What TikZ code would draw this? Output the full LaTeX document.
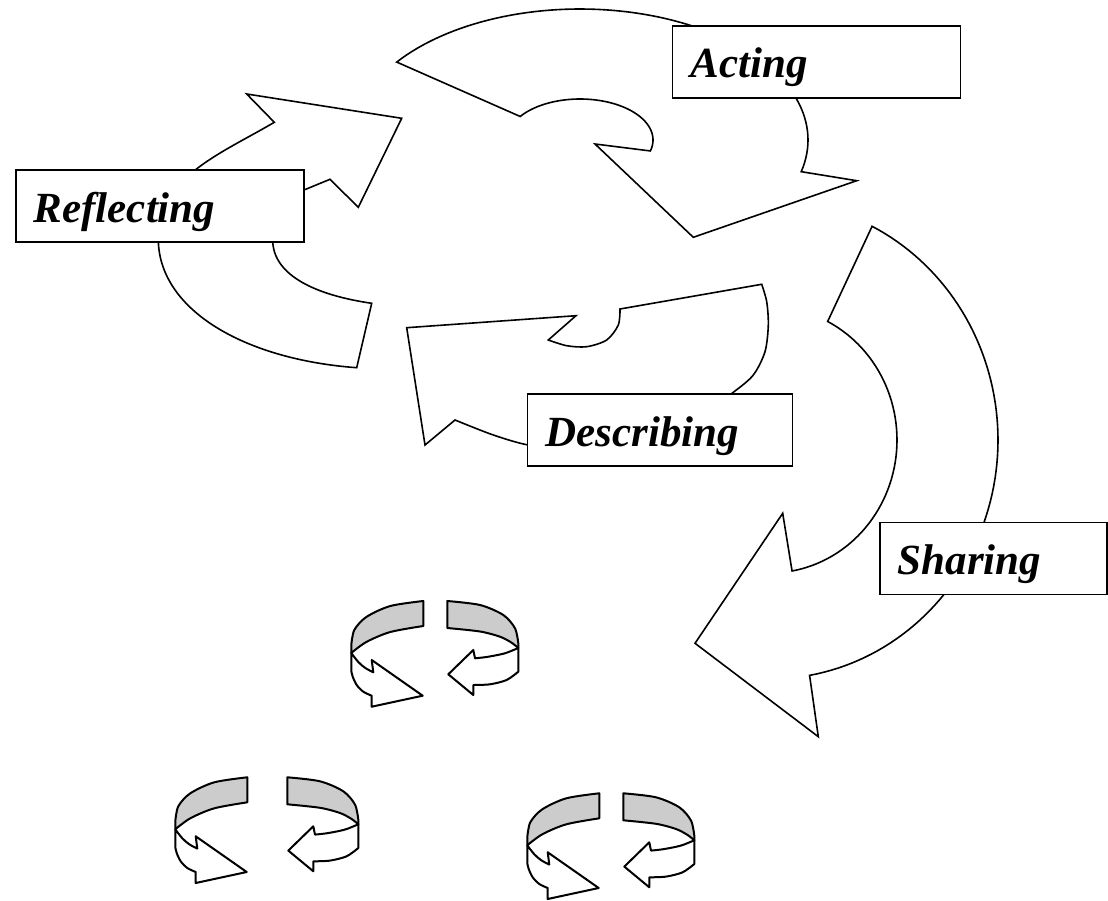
\documentclass[tikz,border=0pt]{standalone}
\usepackage{fontspec}
\setmainfont{Liberation Serif}
\begin{document}
\begin{tikzpicture}[x=1pt,y=-1pt,
  big/.style={draw=black, fill=white, line width=1.6pt, line join=miter},
  lbl/.style={draw=black, fill=white, line width=1.6pt, minimum height=72pt,
    inner xsep=18pt, inner ysep=0pt, text height=32pt, text depth=0pt,
    align=left, font=\fontsize{43}{50}\selectfont\bfseries\itshape},
  ring/.style={draw=black, line width=2pt, line join=round},
  band/.style={ring, fill=black!20},
  front/.style={ring, fill=white},
  rotl/.pic={
    \path[band] (0,0) -- plot[smooth] coordinates {(0,0) (-33,5) (-57,16) (-69,29) (-72,44)}
      -- (-72,52) -- plot[smooth] coordinates {(-72,52) (-57,41) (-33,31) (0,25)} -- cycle;
    \path[front] (-72,52) -- plot[smooth] coordinates {(-72,52) (-65,61) (-58,67) (-50,71.3)}
      -- (-51.6,59) -- (-0.6,94.7) -- (-51.6,105.7) -- (-51.6,94.7)
      -- plot[smooth] coordinates {(-51.6,94.7) (-60,90.7) (-66.6,84) (-70.6,75.7) (-72,70)} -- cycle;
  },
  rotr/.pic={
    \path[band] (0,0) -- plot[smooth] coordinates {(0,0) (32.7,4) (56,14) (67.7,27.3) (71,42.3)}
      -- (71,47) -- plot[smooth] coordinates {(71,47) (64,41.5) (52.7,35.7) (32.7,30.5) (0,27)} -- cycle;
    \path[front] (71,47) -- plot[smooth] coordinates {(71,47) (60,51.5) (52.7,53.5) (39.3,56) (27.7,57.3)}
      -- (26,49) -- (1,73.3) -- (26,94) -- (26,84)
      -- plot[smooth] coordinates {(26,84) (42.7,83.3) (59.3,79) (71,70.7)} -- cycle;
  }
]
\useasboundingbox (0,0) rectangle (1108,901);

% Acting arrow
\path[big] plot[domain=143.5:-14, samples=80, variable=\t] ({580+228*cos(\t)},{140-131*sin(\t)})
  -- (856.7,180.7) -- (693.3,237.3) -- (595,144)
  -- plot[domain=-15.5:145, samples=60, variable=\t] ({580+73*cos(\t)},{140-41*sin(\t)}) -- cycle;

% Sharing arrow
\path[big] plot[domain=63.4:-80, samples=80, variable=\t] ({770+228*cos(\t)},{440-239*sin(\t)})
  -- (818.3,736.7) -- (695,643.3) -- (782.7,513.3)
  -- plot[domain=-80:63, samples=60, variable=\t] ({770+127*cos(\t)},{440-133*sin(\t)}) -- cycle;

% Reflecting arrow
\path[big] (356.7,367.7) -- (371.7,303.3)
  .. controls (316.7,295.3) and (273.7,276) .. (272.7,241)
  .. controls (271.7,215) and (285,198) .. (304,190) -- (330,179.3)
  -- (358.3,207.3) -- (401.7,118.3) -- (246.7,94) -- (274.3,122.3)
  .. controls (217,156) and (155.5,178) .. (158.5,245)
  .. controls (163.5,312.7) and (247.7,359.7) .. (356.7,367.7)
  -- cycle;

% Describing arrow
\path[big] (620,309) -- (761.7,284.3)
  -- plot[smooth] coordinates {(761.7,284.3) (766.7,301.7) (768.3,325) (765,351.7) (753.3,375) (733.3,392.3) (700,416) (660,436) (615,447) (570,449) (528.3,445) (493.3,435) (455,420)}
  -- (425,445) -- (406.7,327.7) -- (576,315.7) -- (548.3,340)
  -- plot[smooth] coordinates {(548.3,340) (566.7,345.7) (586.7,346.7) (606.7,340) (618.3,325) (620,309)}
  -- cycle;

% Labels
\node[lbl, anchor=north west, text width=252pt] (acting) at (671.7,25) {Acting};
\node[lbl, anchor=north west, text width=252pt] (reflecting) at (15,169.3) {Reflecting};
\node[lbl, anchor=north west, text width=229pt] (describing) at (526.7,393.3) {Describing};
\node[lbl, anchor=north west, text width=191pt] (sharing) at (879,521.7) {Sharing};

% Small rotation icons
\pic at (423.3,601) {rotl};
\pic at (447.3,601) {rotr};
\pic at (247.3,777.3) {rotl};
\begin{scope}[shift={(287.3,777.3)}, yscale=1.15]
  \pic at (0,0) {rotr};
\end{scope}
\pic at (599.3,793.3) {rotl};
\begin{scope}[shift={(623.3,793.3)}, yscale=1.15]
  \pic at (0,0) {rotr};
\end{scope}
\end{tikzpicture}
\end{document}
